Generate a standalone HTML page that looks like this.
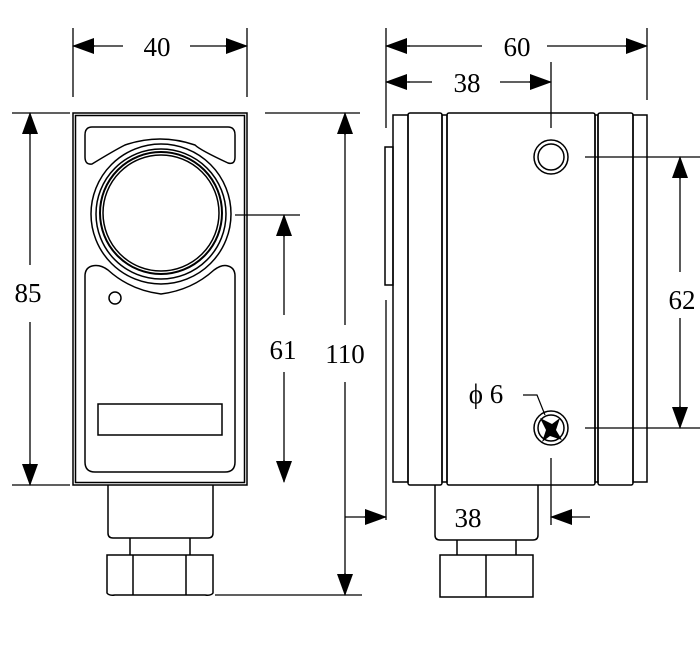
<!DOCTYPE html>
<html><head><meta charset="utf-8"><style>
html,body{margin:0;padding:0;background:#fff;width:700px;height:650px;overflow:hidden}
svg{display:block}
text{font-family:"Liberation Serif",serif;font-size:27px;fill:#000}
</style></head><body>
<svg width="700" height="650" viewBox="0 0 700 650" xmlns="http://www.w3.org/2000/svg">
<defs>
<marker id="a" markerWidth="22" markerHeight="16" refX="21" refY="8" orient="auto" markerUnits="userSpaceOnUse"><path d="M0,0 L22,8 L0,16 Z" fill="#000"/></marker>
</defs>
<g fill="none" stroke="#000" stroke-width="1.5">
<rect x="73" y="113" width="174" height="372"/>
<rect x="75.5" y="115.5" width="169" height="367"/>
<path d="M92,127 H228 Q235,127 235,135 V157 Q235,165 228,163 Q200,150 195,145 Q160,133 125,145 Q115,150 92,164 Q85,165 85,157 V135 Q85,127 92,127 Z"/>
<circle cx="161" cy="214" r="70"/>
<circle cx="161" cy="214" r="65"/>
<circle cx="161" cy="213" r="61" stroke-width="2"/>
<circle cx="161" cy="213" r="58"/>
<path d="M92,266 Q100,264 108,270 Q130,290 161,294 Q192,290 214,270 Q222,264 228,266 Q235,268 235,276 V462 Q235,472 225,472 H95 Q85,472 85,462 V276 Q85,268 92,266 Z"/>
<circle cx="115" cy="298" r="6"/>
<rect x="98" y="404" width="124" height="31"/>
<path d="M108,485 V533 Q108,538 113,538 H208 Q213,538 213,533 V485"/>
<path d="M130,538 V555 M190,538 V555"/>
<path d="M107,555 H213 V593 Q211,596 205,595 H115 Q109,596 107,593 Z"/>
<path d="M133,555 V595 M186,555 V595"/>
<rect x="393" y="115" width="15" height="367"/>
<rect x="408" y="113" width="34" height="372" rx="2"/>
<rect x="447" y="113" width="148" height="372" rx="2"/>
<rect x="442" y="115" width="5" height="367"/>
<rect x="595" y="115" width="3" height="367"/>
<rect x="598" y="113" width="35" height="372" rx="2"/>
<rect x="633" y="115" width="14" height="367"/>
<rect x="385" y="147" width="8" height="138"/>
<circle cx="551" cy="157" r="17"/>
<circle cx="551" cy="157" r="13"/>
<circle cx="551" cy="428" r="17"/>
<circle cx="551" cy="428" r="13"/>
<path d="M435,485 V535 Q435,540 440,540 H533 Q538,540 538,535 V485"/>
<path d="M457,540 V555 M516,540 V555"/>
<path d="M440,555 H533 V597 H440 Z M486,555 V597"/>
<path d="M523,395 H537 L545,415" stroke-width="1.2"/>
<g stroke-width="1.3">
<path d="M73,28 V97 M247,28 V97"/>
<path d="M386,28 V128 M647,28 V100 M551,62 V128"/>
<path d="M12,113 H70 M12,485 H70"/>
<path d="M235,215 H300 M265,113 H360 M215,595 H362"/>
<path d="M585,157 H700 M585,428 H700"/>
<path d="M386,300 V520 M551,458 V525"/>
<path d="M95,46 H73" marker-end="url(#a)"/><path d="M123,46 H93"/>
<path d="M225,46 H247" marker-end="url(#a)"/><path d="M190,46 H227"/>
<path d="M410,46 H386" marker-end="url(#a)"/><path d="M482,46 H408"/>
<path d="M625,46 H647" marker-end="url(#a)"/><path d="M547,46 H627"/>
<path d="M410,82 H386" marker-end="url(#a)"/><path d="M432,82 H408"/>
<path d="M529,82 H551" marker-end="url(#a)"/><path d="M500,82 H531"/>
<path d="M30,135 V113" marker-end="url(#a)"/><path d="M30,265 V133"/>
<path d="M30,463 V485" marker-end="url(#a)"/><path d="M30,322 V465"/>
<path d="M284,237 V215" marker-end="url(#a)"/><path d="M284,315 V235"/>
<path d="M284,460 V482" marker-end="url(#a)"/><path d="M284,372 V462"/>
<path d="M345,135 V113" marker-end="url(#a)"/><path d="M345,325 V133"/>
<path d="M345,573 V595" marker-end="url(#a)"/><path d="M345,382 V575"/>
<path d="M680,179 V157" marker-end="url(#a)"/><path d="M680,272 V177"/>
<path d="M680,406 V428" marker-end="url(#a)"/><path d="M680,318 V408"/>
<path d="M364,517 H386" marker-end="url(#a)"/><path d="M345,517 H366"/>
<path d="M573,517 H551" marker-end="url(#a)"/><path d="M590,517 H571"/>
</g>
</g>
<path d="M540,418 L552,424 L560,418 L556,430 L562,440 L550,436 L542,442 L546,430 Z" fill="#000"/>
<g text-anchor="middle">
<text x="157" y="56">40</text>
<text x="517" y="56">60</text>
<text x="467" y="92">38</text>
<text x="28" y="302">85</text>
<text x="283" y="359">61</text>
<text x="345" y="363">110</text>
<text x="682" y="309">62</text>
<text x="468" y="527">38</text>
<text x="486" y="403">ϕ 6</text>
</g>
</svg>
</body></html>
